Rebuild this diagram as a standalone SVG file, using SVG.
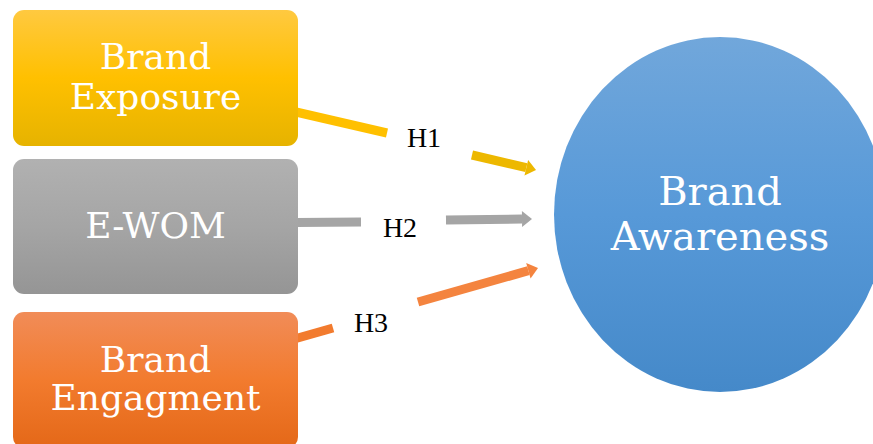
<svg xmlns="http://www.w3.org/2000/svg" width="873" height="444" viewBox="0 0 873 444">
<defs>
<linearGradient id="gY" x1="0" y1="0" x2="0" y2="1"><stop offset="0" stop-color="#FFC940"/><stop offset="0.5" stop-color="#FFC000"/><stop offset="1" stop-color="#E6B300"/></linearGradient>
<linearGradient id="gG" x1="0" y1="0" x2="0" y2="1"><stop offset="0" stop-color="#B1B1B1"/><stop offset="0.5" stop-color="#A5A5A5"/><stop offset="1" stop-color="#959595"/></linearGradient>
<linearGradient id="gO" x1="0" y1="0" x2="0" y2="1"><stop offset="0" stop-color="#F18C58"/><stop offset="0.5" stop-color="#F27B2E"/><stop offset="1" stop-color="#E46818"/></linearGradient>
<linearGradient id="gB" x1="0" y1="0" x2="0" y2="1"><stop offset="0" stop-color="#71A7DB"/><stop offset="0.5" stop-color="#5799D8"/><stop offset="1" stop-color="#4589C9"/></linearGradient>
<marker id="aY" markerUnits="userSpaceOnUse" markerWidth="11" markerHeight="16" refX="0" refY="8" orient="auto" overflow="visible"><path d="M0,0 L10,8 L0,16 z" fill="#EDB800"/></marker>
<marker id="aG" markerUnits="userSpaceOnUse" markerWidth="11" markerHeight="16" refX="0" refY="8" orient="auto" overflow="visible"><path d="M0,0 L10,8 L0,16 z" fill="#A5A5A5"/></marker>
<marker id="aO" markerUnits="userSpaceOnUse" markerWidth="11" markerHeight="16" refX="0" refY="8" orient="auto" overflow="visible"><path d="M0,0 L10,8 L0,16 z" fill="#F4843F"/></marker>
<style>
.nt{font-family:"DejaVu Serif",serif;fill:#fff;text-anchor:middle}
.bt{font-size:36px}
.ct{font-size:40px}
.lb{font-family:"Liberation Serif","Times New Roman",serif;font-size:28px;fill:#000;text-anchor:middle}
.c{fill:none;stroke-width:9;stroke-linecap:butt}
</style>
</defs>
<rect width="873" height="444" fill="#fff"/>
<g id="connectors">
<line class="c" x1="296" y1="112" x2="387" y2="133" stroke="#FFC000"/>
<line class="c" x1="472" y1="155" x2="526.3" y2="167.7" stroke="#EDB800" marker-end="url(#aY)"/>
<line class="c" x1="296" y1="222.5" x2="361" y2="222" stroke="#A5A5A5"/>
<line class="c" x1="446" y1="220" x2="522" y2="219.1" stroke="#A5A5A5" marker-end="url(#aG)"/>
<line class="c" x1="296" y1="338.5" x2="333" y2="328" stroke="#F27B2E"/>
<line class="c" x1="418" y1="302" x2="528.4" y2="270.7" stroke="#F4843F" marker-end="url(#aO)"/>
<text class="lb" x="424" y="147">H1</text>
<text class="lb" x="400" y="237">H2</text>
<text class="lb" x="371" y="332">H3</text>
</g>
<g id="brand-exposure">
<rect x="13" y="10" width="285" height="136" rx="11" fill="url(#gY)"/>
<text class="nt bt" x="155.5" y="69">Brand</text>
<text class="nt bt" x="155.5" y="109">Exposure</text>
</g>
<g id="ewom">
<rect x="13" y="159" width="285" height="135" rx="11" fill="url(#gG)"/>
<text class="nt bt" x="155.5" y="238">E-WOM</text>
</g>
<g id="brand-engagment">
<rect x="13" y="312" width="285" height="136" rx="11" fill="url(#gO)"/>
<text class="nt bt" x="155.5" y="372">Brand</text>
<text class="nt bt" x="155.5" y="410">Engagment</text>
</g>
<g id="brand-awareness">
<ellipse cx="720" cy="214.5" rx="166" ry="177.5" fill="url(#gB)"/>
<text class="nt ct" x="720" y="205">Brand</text>
<text class="nt ct" x="720" y="250">Awareness</text>
</g>
</svg>
